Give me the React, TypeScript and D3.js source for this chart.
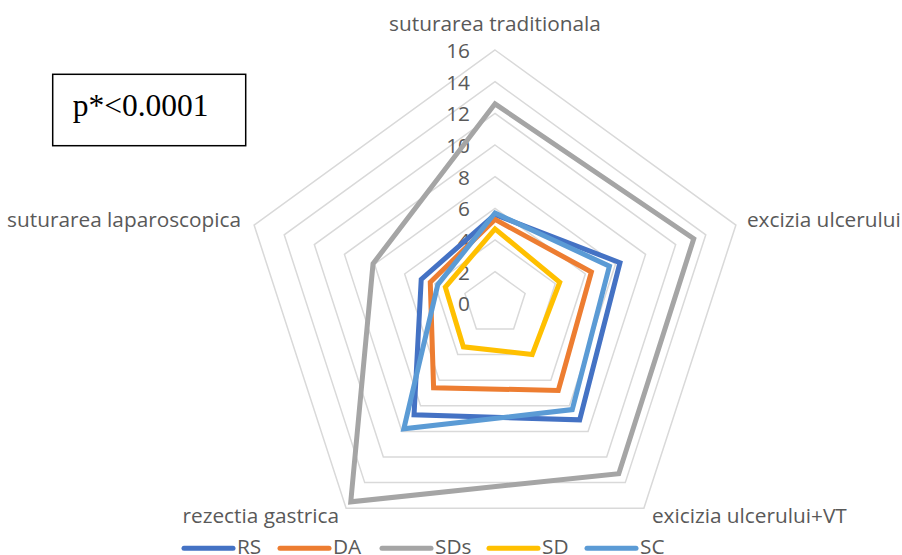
import React from "react";
import * as d3 from "d3";

const categories = [
  "suturarea traditionala",
  "excizia ulcerului",
  "exicizia ulcerului+VT",
  "rezectia gastrica",
  "suturarea laparoscopica",
];
const seriesNames = ["RS", "DA", "SDs", "SD", "SC"];
const RS = [5.6, 8.3, 9.1, 8.7, 4.9];
const DA = [5.3, 6.4, 6.8, 6.6, 4.3];
const SDs = [12.6, 13.2, 13.3, 15.5, 8.1];
const SD = [4.7, 4.3, 4.0, 3.4, 3.3];
const SC = [5.7, 7.6, 8.3, 9.8, 3.8];
const tickValues = [0, 2, 4, 6, 8, 10, 12, 14, 16];
const colors = ["#4472C4", "#ED7D31", "#A5A5A5", "#FFC000", "#5B9BD5"];

const W = 902;
const H = 555;
const cx = 495;
const cy = 303.3;
const R = 253.3;
const FONT = "'Open Sans', Lato, sans-serif";
const FS = 20.8;

export default function App() {
  const seriesData = [RS, DA, SDs, SD, SC];
  const n = categories.length;
  const r = d3.scaleLinear().domain([0, 16]).range([0, R]);
  const angle = d3
    .scalePoint<number>()
    .domain(d3.range(n + 1))
    .range([0, 2 * Math.PI]);
  const ang = (i: number) => angle(i) as number;

  const line = d3
    .lineRadial<number>()
    .angle((_, i) => ang(i))
    .radius((d) => r(d))
    .curve(d3.curveLinearClosed);

  const pt = (i: number, v: number) => {
    const a = ang(i);
    return [cx + r(v) * Math.sin(a), cy - r(v) * Math.cos(a)];
  };

  const gridRings = tickValues.filter((t) => t > 0);

  return (
    <svg
      width={W}
      height={H}
      style={{ position: "absolute", left: 0, top: 0, background: "#fff" }}
    >
      <rect width={W} height={H} fill="#fff" />
      <g transform={`translate(${cx},${cy})`}>
        {gridRings.map((t) => (
          <path
            key={t}
            d={line(categories.map(() => t)) || ""}
            fill="none"
            stroke="#D9D9D9"
            strokeWidth={1.5}
          />
        ))}
      </g>
      {tickValues.map((t) => (
        <text
          key={t}
          x={cx - 25}
          y={cy - r(t) + 8}
          textAnchor="end"
          fontFamily={FONT}
          fontSize={FS}
          fill="#595959"
        >
          {t}
        </text>
      ))}
      <g transform={`translate(${cx},${cy})`}>
        {seriesData.map((s, k) => (
          <path
            key={seriesNames[k]}
            d={line(s) || ""}
            fill="none"
            stroke={colors[k]}
            strokeWidth={5}
            strokeLinejoin="miter"
          />
        ))}
      </g>
      {categories.map((c, i) => {
        const a = ang(i);
        const [vx, vy] = pt(i, 16);
        const s = Math.sin(a);
        const co = Math.cos(a);
        let anchor = "middle";
        let x = vx;
        let y = vy;
        if (co > 0.9) {
          y = vy - 19;
        } else if (co > 0) {
          anchor = s > 0 ? "start" : "end";
          x = vx + (s > 0 ? 11 : -13);
          y = vy + 2;
        } else {
          anchor = s > 0 ? "start" : "end";
          x = vx + (s > 0 ? 8 : -7);
          y = vy + 15;
        }
        return (
          <text
            key={c}
            x={x}
            y={y}
            textAnchor={anchor}
            fontFamily={FONT}
            fontSize={FS}
            fill="#595959"
          >
            {c}
          </text>
        );
      })}
      <rect
        x={52.7}
        y={74.3}
        width={193}
        height={71.4}
        fill="#fff"
        stroke="#000"
        strokeWidth={1.5}
      />
      <text
        x={72.7}
        y={116}
        fontFamily="'Liberation Serif', 'Times New Roman', serif"
        fontSize={31.5}
        fill="#000"
      >
        p*&lt;0.0001
      </text>
      {seriesNames.map((name, k) => {
        const starts = [182, 278, 380, 487, 585];
        const x0 = starts[k];
        return (
          <g key={name}>
            <line
              x1={x0 + 2}
              x2={x0 + 51}
              y1={548.3}
              y2={548.3}
              stroke={colors[k]}
              strokeWidth={5}
              strokeLinecap="round"
            />
            <text
              x={x0 + 55}
              y={554}
              fontFamily={FONT}
              fontSize={FS}
              fill="#595959"
            >
              {name}
            </text>
          </g>
        );
      })}
    </svg>
  );
}
